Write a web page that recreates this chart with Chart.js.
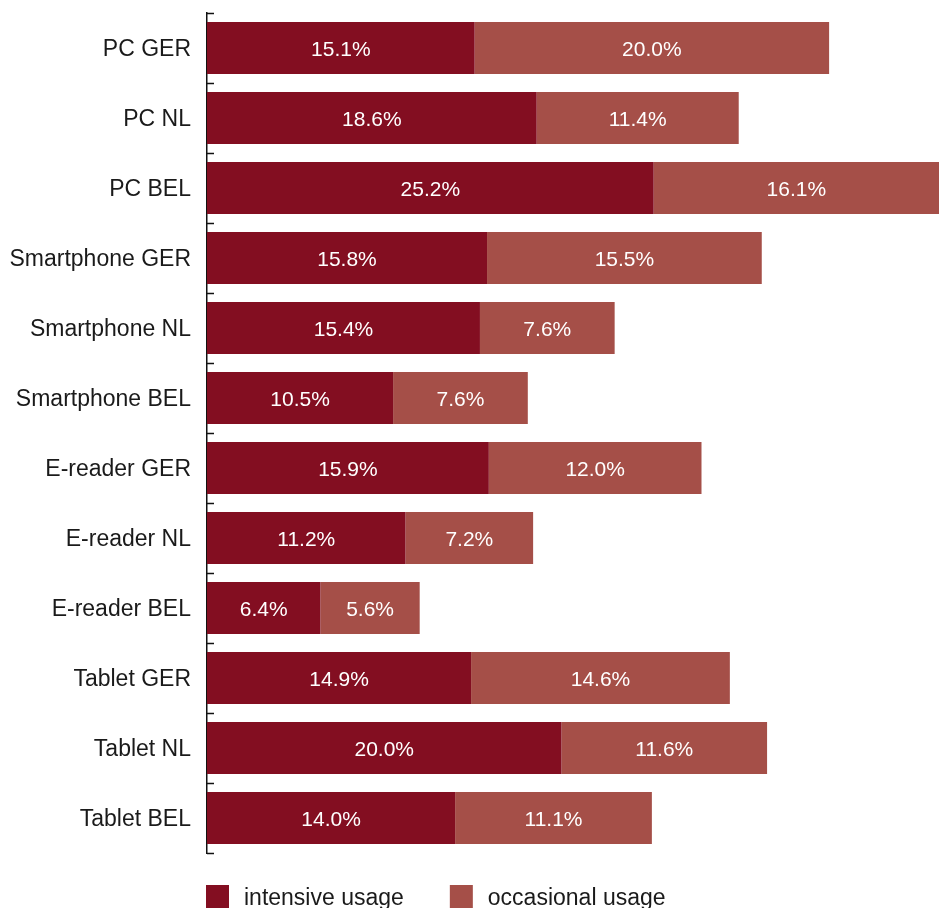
<!DOCTYPE html>
<html>
<head>
<meta charset="utf-8">
<script src="https://cdn.jsdelivr.net/npm/chart.js@4/dist/chart.umd.min.js"></script>
<style>
  html, body { margin: 0; padding: 0; background: #ffffff; }
  #wrap { width: 946px; height: 908px; position: relative; }
</style>
</head>
<body>
<div id="wrap"><canvas id="c" width="946" height="908"></canvas></div>
<script>
// Device usage shares per country (percent of respondents)
const categories = [
  'PC GER', 'PC NL', 'PC BEL',
  'Smartphone GER', 'Smartphone NL', 'Smartphone BEL',
  'E-reader GER', 'E-reader NL', 'E-reader BEL',
  'Tablet GER', 'Tablet NL', 'Tablet BEL'
];
const intensiveUsage  = [15.1, 18.6, 25.2, 15.8, 15.4, 10.5, 15.9, 11.2, 6.4, 14.9, 20.0, 14.0];
const occasionalUsage = [20.0, 11.4, 16.1, 15.5, 7.6, 7.6, 12.0, 7.2, 5.6, 14.6, 11.6, 11.1];

const DARK = '#830e21';
const LIGHT = '#a54f48';
const FONT = '"Liberation Sans", Arial, Helvetica, sans-serif';

const totals = intensiveUsage.map((v, i) => v + occasionalUsage[i]);
const xMax = Math.max(...totals);

// White value labels centred in each bar segment
const valueLabels = {
  id: 'valueLabels',
  afterDatasetsDraw(chart) {
    const ctx = chart.ctx;
    ctx.save();
    ctx.font = '21px ' + FONT;
    ctx.fillStyle = '#ffffff';
    ctx.textAlign = 'center';
    ctx.textBaseline = 'middle';
    chart.data.datasets.forEach((ds, di) => {
      const meta = chart.getDatasetMeta(di);
      meta.data.forEach((bar, i) => {
        const x = (bar.x + bar.base) / 2;
        ctx.fillText(ds.data[i].toFixed(1) + '%', x, bar.y + 2);
      });
    });
    ctx.restore();
  }
};

// Short inward tick marks at the category boundaries of the y axis
const innerTicks = {
  id: 'innerTicks',
  afterDraw(chart) {
    const y = chart.scales.y;
    const n = chart.data.labels.length;
    const ctx = chart.ctx;
    ctx.save();
    ctx.strokeStyle = '#111111';
    ctx.lineWidth = 1.5;
    ctx.beginPath();
    for (let i = 0; i <= n; i++) {
      const py = Math.round(y.top + i * (y.height / n)) + 0.5;
      ctx.moveTo(y.right, py);
      ctx.lineTo(y.right + 7, py);
    }
    ctx.stroke();
    ctx.restore();
  }
};

// Legend row under the plot
const bottomLegend = {
  id: 'bottomLegend',
  afterDraw(chart) {
    const ctx = chart.ctx;
    const left = chart.chartArea.left - 1;
    const top = chart.chartArea.bottom + 32;
    const box = 23;
    const gap = 15;
    const itemGap = 46;
    ctx.save();
    ctx.font = '23px ' + FONT;
    ctx.textBaseline = 'middle';
    ctx.textAlign = 'left';
    let x = left;
    chart.data.datasets.forEach(ds => {
      ctx.fillStyle = ds.backgroundColor;
      ctx.fillRect(x, top, box, box);
      ctx.fillStyle = '#1a1a1a';
      const tx = x + box + gap;
      ctx.fillText(ds.label, tx, top + box / 2 + 2);
      x = tx + ctx.measureText(ds.label).width + itemGap;
    });
    ctx.restore();
  }
};

new Chart(document.getElementById('c'), {
  type: 'bar',
  data: {
    labels: categories,
    datasets: [
      { label: 'intensive usage', data: intensiveUsage, backgroundColor: DARK },
      { label: 'occasional usage', data: occasionalUsage, backgroundColor: LIGHT }
    ]
  },
  options: {
    indexAxis: 'y',
    responsive: false,
    animation: false,
    layout: { padding: { top: 13, bottom: 55, right: 7, left: 0 } },
    datasets: {
      bar: { categoryPercentage: 1.0, barPercentage: 0.743, borderWidth: 0 }
    },
    plugins: {
      legend: { display: false },
      tooltip: { enabled: false }
    },
    scales: {
      x: {
        stacked: true,
        display: false,
        min: 0,
        max: xMax
      },
      y: {
        stacked: true,
        afterFit(scale) {
          scale.width = 207;
          scale.paddingTop = 0;
          scale.paddingBottom = 0;
        },
        grid: { display: true, drawOnChartArea: false, drawTicks: false },
        border: { display: true, color: '#111111', width: 1.5 },
        ticks: {
          padding: 16,
          labelOffset: 2,
          color: '#1a1a1a',
          font: { family: FONT, size: 23 }
        }
      }
    }
  },
  plugins: [valueLabels, innerTicks, bottomLegend]
});
</script>
</body>
</html>
